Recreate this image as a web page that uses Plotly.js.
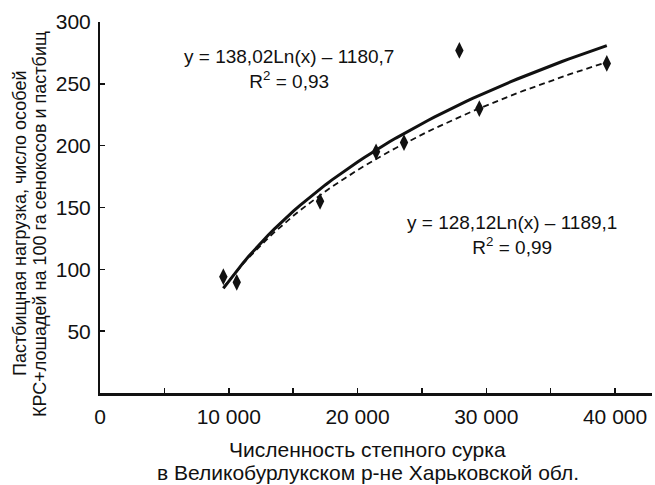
<!DOCTYPE html>
<html>
<head>
<meta charset="utf-8">
<script src="https://cdn.plot.ly/plotly-3.0.1.min.js"></script>
<style>html,body{margin:0;padding:0;background:#fff;}#chart{width:655px;height:485px;}</style>
</head>
<body>
<div id="chart"></div>
<script>
// Data
const marmotCount = [9580, 10620, 17090, 21440, 23610, 27910, 29460, 39360];
const grazingLoad = [94, 89.5, 155, 195, 202.5, 277, 230, 266.5];
// points used for the dashed trend (the outlier at ~27 900 is left out)
const inDashedFit = [1, 1, 1, 1, 1, 0, 1, 1];

const xTickVals = [0, 10000, 20000, 30000, 40000];
const xTickText = ['0', '10 000', '20 000', '30 000', '40 000'];
const xMinorStep = 5000;
const yTickVals = [50, 100, 150, 200, 250, 300];
const yTickText = ['50', '100', '150', '200', '250', '300'];

const eqSolid = ['y = 138,02Ln(x) – 1180,7', 'R<sup>2</sup> = 0,93'];
const eqDashed = ['y = 128,12Ln(x) – 1189,1', 'R<sup>2</sup> = 0,99'];
const xTitle = ['Численность степного сурка', 'в Великобурлукском р-не Харьковской обл.'];
const yTitle = ['Пастбищная нагрузка, число особей', 'КРС+лошадей на 100 га сенокосов и пастбищ'];

// logarithmic least-squares trend computed from the data
function logFit(xs, ys) {
  const lx = xs.map(Math.log);
  const n = lx.length;
  const mx = lx.reduce((a, b) => a + b, 0) / n;
  const my = ys.reduce((a, b) => a + b, 0) / n;
  let sxy = 0, sxx = 0;
  for (let i = 0; i < n; i++) { sxy += (lx[i] - mx) * (ys[i] - my); sxx += (lx[i] - mx) ** 2; }
  const a = sxy / sxx;
  return { a: a, b: my - a * mx };
}
function trendCurve(xs, ys) {
  const f = logFit(xs, ys);
  const x0 = Math.min(...xs), x1 = Math.max(...xs);
  const cx = [], cy = [];
  for (let i = 0; i <= 60; i++) {
    const x = x0 + (x1 - x0) * i / 60;
    cx.push(x); cy.push(f.a * Math.log(x) + f.b);
  }
  return { x: cx, y: cy };
}
const solid = trendCurve(marmotCount, grazingLoad);
const dx = marmotCount.filter((_, i) => inDashedFit[i]);
const dy = grazingLoad.filter((_, i) => inDashedFit[i]);
const dashed = trendCurve(dx, dy);

const ink = '#111111';
const traces = [
  { x: solid.x, y: solid.y, mode: 'lines', line: { color: ink, width: 3 }, hoverinfo: 'skip' },
  { x: dashed.x, y: dashed.y, mode: 'lines', line: { color: ink, width: 1.8, dash: '6px,4px' }, hoverinfo: 'skip' },
  { x: marmotCount, y: grazingLoad, mode: 'markers', marker: { symbol: 'diamond-tall', size: 12, color: ink } }
];

const fam = '"Liberation Sans", Arial, Helvetica, sans-serif';
function ann(text, x, y, size, extra) {
  return Object.assign({ text: text, x: x, y: y, xref: 'x', yref: 'y', showarrow: false,
    xanchor: 'center', yanchor: 'middle', align: 'center', font: { family: fam, size: size, color: ink } }, extra || {});
}
const annotations = [
  ann(eqSolid.join('<br>'), 14680, 262.0, 19),
  ann(eqDashed.join('<br>'), 31960, 128.1, 19),
  ann(xTitle[0], 0.4855, -0.151, 21, { xref: 'paper', yref: 'paper' }),
  ann(xTitle[1], 0.4855, -0.2156, 21, { xref: 'paper', yref: 'paper' }),
  ann(yTitle[0], -0.1449, 0.4555, 18, { xref: 'paper', yref: 'paper', textangle: -90 }),
  ann(yTitle[1], -0.1087, 0.4555, 18, { xref: 'paper', yref: 'paper', textangle: -90 })
];

const layout = {
  width: 655, height: 485,
  margin: { l: 100, r: 3, t: 22, b: 92, pad: 0 },
  paper_bgcolor: '#ffffff', plot_bgcolor: '#ffffff',
  showlegend: false,
  font: { family: fam, color: ink },
  xaxis: {
    range: [0, 42870], tickmode: 'array', tickvals: xTickVals, ticktext: xTickText,
    ticks: 'inside', ticklen: 5, tickwidth: 1.5, tickcolor: ink,
    minor: { dtick: xMinorStep, tick0: 0, ticks: 'inside', ticklen: 5, tickwidth: 1.5, tickcolor: ink, showgrid: false },
    showline: true, linewidth: 2.5, linecolor: ink, showgrid: false, zeroline: false,
    tickfont: { size: 21, color: ink }, ticklabelstandoff: 3
  },
  yaxis: {
    range: [0, 300], tickmode: 'array', tickvals: yTickVals, ticktext: yTickText,
    ticks: 'inside', ticklen: 5, tickwidth: 1.5, tickcolor: ink,
    showline: true, linewidth: 2, linecolor: ink, showgrid: false, zeroline: false,
    tickfont: { size: 21, color: ink }, ticklabelstandoff: 3
  },
  annotations: annotations
};

Plotly.newPlot('chart', traces, layout, { staticPlot: true, displayModeBar: false });
</script>
</body>
</html>
